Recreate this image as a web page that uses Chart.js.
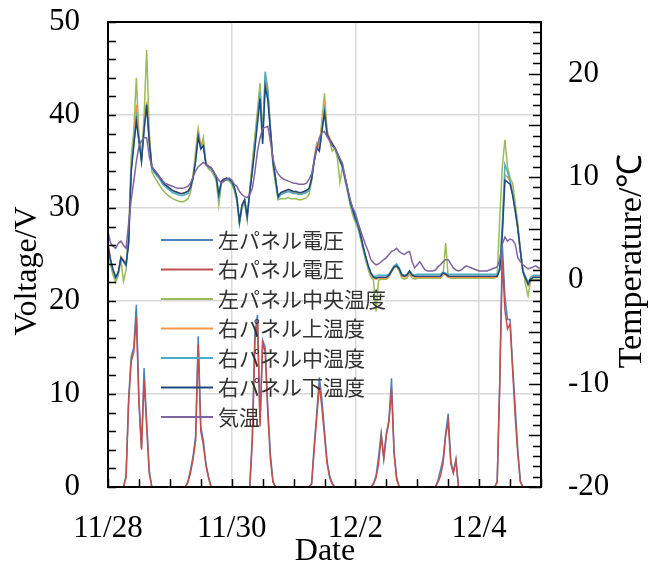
<!DOCTYPE html>
<html>
<head>
<meta charset="utf-8">
<script src="https://cdn.jsdelivr.net/npm/chart.js@4.4.0/dist/chart.umd.min.js"></script>
<style>
  html, body { margin: 0; padding: 0; background: #fff; }
  #wrap { width: 660px; height: 566px; }
</style>
</head>
<body>
<div id="wrap"><canvas id="chart" width="660" height="566"></canvas></div>
<script>
// hourly readings, index = hours since 11/28 0:00
const tickHours = [0, 48, 96, 144];
const tickLabels = ['11/28', '11/30', '12/2', '12/4'];

const seriesNames = ['左パネル電圧', '右パネル電圧', '左パネル中央温度', '右パネル上温度', '右パネル中温度', '右パネル下温度', '気温'];
const seriesColors = ['#4F81BD', '#C0504D', '#9BBB59', '#F79646', '#4BACC6', '#1F497D', '#8064A2'];

const leftVolt = [
  0,0,0,0,0,0,0, 1.2, 9.5, 14.0, 15.0, 19.6, 9.5, 4.2, 12.8, 7.0, 1.8, 0,0,0,0,0,0,0,
  0,0,0,0,0,0,0, 0.6, 1.8, 3.3, 5.5, 16.2, 6.5, 5.0, 2.5, 1.1, 0,0,0,0,0,0,0,0,
  0,0,0,0,0,0,0,0, 5.5, 16.5, 18.5, 7.0, 15.8, 15.0, 8.5, 3.6, 0.6, 0,0,0,0,0,0,0,
  0,0,0,0,0,0,0, 0.4, 4.5, 8.0, 11.8, 9.4, 6.0, 2.8, 1.2, 0.4, 0,0,0,0,0,0,0,0,
  0,0,0,0,0,0,0, 0.4, 1.2, 3.3, 5.8, 3.2, 5.8, 7.2, 11.7, 3.8, 1.0, 0,0,0,0,0,0,0,
  0,0,0,0,0,0,0,0, 0.7, 1.8, 3.0, 5.8, 7.9, 2.8, 1.6, 3.0, 0,0,0,0,0,0,0,0,
  0,0,0,0,0,0,0, 0.6, 11.5, 26.0, 20.5, 18.0, 18.0, 13.0, 8.6, 4.0, 0.6, 0,0,0,0,0,0,0,0
];
const rightVolt = [
  0,0,0,0,0,0,0, 1.0, 9.0, 13.5, 14.5, 18.3, 9.0, 4.0, 11.5, 6.5, 1.5, 0,0,0,0,0,0,0,
  0,0,0,0,0,0,0, 0.5, 1.5, 3.0, 5.0, 15.3, 6.0, 4.5, 2.3, 1.0, 0,0,0,0,0,0,0,0,
  0,0,0,0,0,0,0,0, 5.0, 15.8, 17.9, 6.5, 15.5, 14.5, 8.0, 3.0, 0.5, 0,0,0,0,0,0,0,
  0,0,0,0,0,0,0, 0.3, 4.0, 7.5, 11.0, 8.5, 5.5, 2.5, 1.0, 0.3, 0,0,0,0,0,0,0,0,
  0,0,0,0,0,0,0, 0.3, 1.0, 2.5, 5.5, 3.0, 5.5, 7.0, 10.5, 3.5, 0.8, 0,0,0,0,0,0,0,
  0,0,0,0,0,0,0,0, 0.5, 1.2, 2.5, 5.5, 7.0, 2.5, 1.5, 2.8, 0,0,0,0,0,0,0,0,
  0,0,0,0,0,0,0, 0.5, 11.0, 24.5, 19.0, 17.0, 17.5, 12.5, 7.5, 3.5, 0.5, 0,0,0,0,0,0,0,0
];
const leftCenterTemp = [
  3.2, 1.5, 0.5, -0.2, 0.5, 2.0, -0.1, 1.0, 4.5, 12.0, 14.5, 19.6, 14.0, 11.8, 16.0, 22.3, 14.5, 10.5, 10.0, 9.6, 9.2, 8.8, 8.5, 8.3,
  8.1, 7.9, 7.8, 7.7, 7.6, 7.6, 7.7, 7.9, 8.5, 10.0, 12.5, 14.7, 13.0, 13.8, 11.3, 10.8, 10.6, 10.2, 9.6, 7.3, 9.4, 9.6, 9.7, 9.6,
  9.3, 8.7, 7.6, 5.5, 7.0, 7.5, 5.8, 8.8, 11.5, 14.0, 16.5, 19.1, 14.0, 19.7, 18.0, 14.5, 11.0, 9.3, 7.8, 7.9, 7.9, 7.9, 8.0, 7.9,
  7.9, 7.9, 7.8, 7.8, 7.9, 8.0, 8.3, 9.6, 11.8, 13.3, 13.0, 15.5, 18.1, 14.5, 13.5, 12.5, 12.8, 11.8, 9.5, 11.0, 9.6, 8.5, 7.2, 6.3,
  5.6, 5.0, 4.0, 2.9, 1.9, 1.0, 0.3, 0.0, -3.0, 0.0, 0.1, 0.1, 0.1, 0.3, 0.8, 1.2, 1.3, 0.9, 0.2, 0.1, 0.2, 0.6, 0.2, 0.1,
  0.2, 0.2, 0.2, 0.2, 0.2, 0.2, 0.2, 0.2, 0.2, 0.2, 0.5, 3.6, 0.3, 0.2, 0.2, 0.2, 0.2, 0.2, 0.2, 0.2, 0.2, 0.2, 0.2, 0.2,
  0.2, 0.2, 0.2, 0.2, 0.2, 0.2, 0.2, 0.5, 6.0, 11.0, 13.6, 11.0, 9.9, 9.4, 7.5, 5.5, 3.0, 1.0, -0.4, -1.5, 0.0, 0.1, 0.1, 0.1, 0.1
];
const rightUpperTemp = [
  3.5, 2.0, 1.0, 0.3, 0.8, 2.3, 2.0, 1.6, 3.8, 11.0, 13.6, 17.0, 13.8, 11.8, 15.0, 17.3, 13.8, 11.0, 10.6, 10.3, 10.0, 9.6, 9.3, 9.1,
  8.9, 8.7, 8.6, 8.5, 8.4, 8.4, 8.5, 8.6, 9.1, 10.1, 12.0, 14.3, 13.0, 13.3, 11.4, 11.1, 10.9, 10.5, 10.0, 8.2, 9.6, 9.8, 9.9, 9.8,
  9.6, 9.0, 8.0, 5.6, 7.3, 7.8, 6.1, 8.7, 11.0, 13.5, 16.0, 18.0, 13.8, 19.6, 18.4, 14.8, 11.6, 9.9, 8.0, 8.4, 8.5, 8.6, 8.7, 8.6,
  8.5, 8.5, 8.4, 8.4, 8.5, 8.6, 8.8, 9.9, 11.8, 13.1, 12.8, 15.0, 17.0, 14.4, 13.8, 13.3, 12.9, 12.3, 11.6, 11.0, 9.9, 8.7, 7.5, 6.7,
  5.9, 5.3, 4.3, 3.2, 2.2, 1.3, 0.6, 0.2, 0.1, 0.2, 0.2, 0.2, 0.2, 0.4, 0.9, 1.3, 1.4, 1.0, 0.4, 0.3, 0.4, 0.8, 0.4, 0.3,
  0.3, 0.3, 0.3, 0.3, 0.3, 0.3, 0.3, 0.3, 0.3, 0.3, 0.6, 0.5, 0.3, 0.3, 0.3, 0.3, 0.3, 0.3, 0.3, 0.3, 0.3, 0.3, 0.3, 0.3,
  0.3, 0.3, 0.3, 0.3, 0.3, 0.3, 0.3, 0.3, 1.1, 5.0, 10.2, 10.0, 9.6, 8.5, 6.9, 5.2, 2.9, 0.9, 0.2, -0.5, 0.1, 0.3, 0.3, 0.3, 0.3
];
const rightMidTemp = [
  3.3, 1.8, 0.9, 0.2, 0.7, 2.1, 1.8, 1.4, 3.8, 10.8, 13.3, 15.8, 13.6, 11.6, 14.8, 16.8, 13.4, 10.8, 10.4, 10.1, 9.8, 9.4, 9.1, 8.9,
  8.7, 8.5, 8.4, 8.3, 8.2, 8.2, 8.3, 8.4, 8.9, 9.9, 11.8, 14.0, 12.8, 13.1, 11.2, 10.9, 10.8, 10.4, 9.9, 8.0, 9.5, 9.7, 9.8, 9.7,
  9.5, 8.9, 7.8, 5.5, 7.2, 7.7, 6.0, 8.6, 10.8, 13.2, 15.8, 18.2, 13.6, 20.2, 18.5, 14.8, 11.4, 9.7, 7.9, 8.3, 8.4, 8.5, 8.6, 8.5,
  8.4, 8.4, 8.3, 8.3, 8.4, 8.5, 8.7, 9.8, 11.6, 12.9, 12.6, 14.6, 16.5, 14.2, 13.6, 13.2, 12.8, 12.2, 11.5, 10.9, 9.8, 8.6, 7.4, 6.6,
  5.8, 5.2, 4.2, 3.1, 2.1, 1.3, 0.7, 0.4, 0.4, 0.5, 0.5, 0.5, 0.5, 0.6, 1.0, 1.4, 1.6, 1.2, 0.6, 0.5, 0.6, 0.9, 0.6, 0.5,
  0.6, 0.6, 0.6, 0.6, 0.6, 0.6, 0.6, 0.6, 0.6, 0.6, 0.8, 0.7, 0.6, 0.6, 0.6, 0.6, 0.6, 0.6, 0.6, 0.6, 0.6, 0.6, 0.6, 0.6,
  0.6, 0.6, 0.6, 0.6, 0.6, 0.6, 0.6, 0.6, 1.2, 5.5, 11.2, 10.5, 9.6, 8.4, 6.9, 5.0, 2.8, 0.9, 0.4, -0.2, 0.3, 0.5, 0.5, 0.5, 0.5
];
const rightLowerTemp = [
  3.4, 2.0, 1.0, 0.3, 0.8, 2.2, 1.9, 1.5, 3.5, 10.5, 13.0, 15.4, 13.5, 11.5, 14.5, 17.0, 13.5, 11.0, 10.6, 10.3, 10.0, 9.6, 9.3, 9.1,
  8.9, 8.7, 8.6, 8.5, 8.4, 8.4, 8.5, 8.6, 9.0, 9.9, 11.5, 13.9, 12.7, 13.0, 11.2, 11.0, 10.9, 10.5, 10.0, 8.3, 9.6, 9.8, 9.9, 9.8,
  9.6, 9.0, 8.0, 5.7, 7.3, 7.8, 6.2, 8.5, 10.5, 12.8, 15.2, 17.6, 13.2, 18.8, 17.5, 14.5, 11.5, 9.9, 8.1, 8.5, 8.6, 8.7, 8.8, 8.7,
  8.6, 8.6, 8.5, 8.5, 8.6, 8.7, 8.9, 9.8, 11.5, 12.8, 12.5, 14.4, 16.2, 14.1, 13.6, 13.2, 12.8, 12.3, 11.6, 11.0, 9.9, 8.8, 7.6, 6.8,
  6.0, 5.4, 4.4, 3.3, 2.3, 1.4, 0.7, 0.3, 0.2, 0.3, 0.3, 0.3, 0.3, 0.5, 0.9, 1.3, 1.4, 1.1, 0.5, 0.4, 0.5, 0.9, 0.5, 0.4,
  0.4, 0.4, 0.4, 0.4, 0.4, 0.4, 0.4, 0.4, 0.4, 0.4, 0.7, 0.6, 0.4, 0.4, 0.4, 0.4, 0.4, 0.4, 0.4, 0.4, 0.4, 0.4, 0.4, 0.4,
  0.4, 0.4, 0.4, 0.4, 0.4, 0.4, 0.4, 0.4, 1.0, 4.5, 9.7, 9.5, 9.3, 8.2, 6.7, 5.0, 2.8, 0.8, 0.2, -0.4, 0.1, 0.3, 0.3, 0.3, 0.3
];
const airTemp = [
  4.7, 3.6, 3.3, 3.1, 3.6, 3.8, 3.4, 3.1, 5.5, 7.8, 9.6, 11.5, 13.0, 13.5, 13.8, 13.8, 12.0, 11.0, 10.7, 10.4, 10.0, 9.7, 9.4, 9.3,
  9.2, 9.1, 9.0, 8.9, 8.9, 8.9, 9.0, 9.1, 9.4, 10.0, 10.6, 11.0, 11.2, 11.4, 11.2, 11.0, 10.9, 10.5, 10.1, 9.7, 9.4, 9.6, 9.8, 9.9,
  9.7, 9.3, 9.1, 8.6, 8.3, 8.1, 8.0, 8.3, 8.9, 10.5, 12.5, 13.8, 14.7, 14.8, 14.9, 13.5, 11.8, 10.8, 10.3, 10.0, 9.8, 9.7, 9.6, 9.5,
  9.4, 9.4, 9.3, 9.3, 9.3, 9.4, 9.8, 10.3, 11.5, 12.8, 13.8, 14.3, 14.4, 13.9, 13.5, 13.0, 12.8, 12.3, 11.8, 11.3, 10.0, 8.9, 7.8, 7.0,
  6.5, 5.6, 4.8, 4.1, 3.4, 2.8, 2.0, 1.7, 1.5, 1.6, 1.8, 2.0, 2.2, 2.5, 2.8, 2.9, 3.1, 2.8, 2.6, 2.5, 2.7, 2.8, 1.8, 1.2,
  1.5, 1.8, 1.4, 1.0, 0.9, 0.9, 0.9, 1.0, 1.3, 1.5, 1.8, 2.0, 2.0, 1.6, 1.2, 1.0, 0.9, 1.0, 1.2, 1.4, 1.3, 1.2, 1.1, 1.0,
  0.9, 0.9, 0.9, 0.9, 1.0, 1.1, 1.2, 1.3, 2.0, 3.5, 4.2, 3.8, 4.0, 3.9, 3.5, 2.2, 1.8, 1.5, 1.3, 1.1, 1.2, 1.3, 1.4, 1.2, 1.2
];

const seriesValues = [leftVolt, rightVolt, leftCenterTemp, rightUpperTemp, rightMidTemp, rightLowerTemp, airTemp];
const seriesAxis = ['y', 'y', 'y1', 'y1', 'y1', 'y1', 'y1'];

const serif = '"Liberation Serif", "Times New Roman", serif';
const jpFont = '"Noto Sans CJK JP", "Noto Sans", sans-serif';

const datasets = seriesValues.map((vals, i) => ({
    label: seriesNames[i],
    data: vals.map((v, h) => ({x: h, y: v})),
    yAxisID: seriesAxis[i],
    borderColor: seriesColors[i],
    backgroundColor: seriesColors[i],
    borderWidth: 1.5,
    pointRadius: 0,
    tension: 0,
    order: seriesValues.length - i   // later series on top, as in the original
}));

// inner tick marks, frame, titles and legend
const decorations = {
    id: 'decorations',
    afterDatasetsDraw(chart) {
        const {ctx, chartArea: a, scales} = chart;
        ctx.save();
        ctx.strokeStyle = '#000';
        ctx.lineWidth = 1.5;
        ctx.beginPath();
        for (let v = 0; v <= 50; v += 2) {
            const py = Math.round(scales.y.getPixelForValue(v)) + 0.5;
            ctx.moveTo(a.left, py); ctx.lineTo(a.left + 8, py);
        }
        for (let t = -20; t <= 25; t += 1) {
            const py = Math.round(scales.y1.getPixelForValue(t)) + 0.5;
            const len = t % 5 === 0 ? 12 : 8;
            ctx.moveTo(a.right, py); ctx.lineTo(a.right - len, py);
        }
        for (let h = 0; h <= 168; h += 12) {
            const px = Math.round(scales.x.getPixelForValue(h)) + 0.5;
            ctx.moveTo(px, a.bottom); ctx.lineTo(px, a.bottom - 8);
        }
        ctx.stroke();
        ctx.lineWidth = 2;
        ctx.strokeRect(a.left, a.top, a.right - a.left, a.bottom - a.top);
        ctx.restore();
    },
    afterDraw(chart) {
        const {ctx} = chart;
        ctx.save();
        ctx.fillStyle = '#000';
        ctx.textAlign = 'center';
        ctx.textBaseline = 'middle';
        ctx.font = '32px ' + serif;
        ctx.fillText('Date', 325, 552);
        ctx.translate(28, 271);
        ctx.rotate(-Math.PI / 2);
        ctx.fillText('Voltage/V', 0, 0);
        ctx.restore();

        ctx.save();
        ctx.fillStyle = '#000';
        ctx.textAlign = 'center';
        ctx.textBaseline = 'middle';
        ctx.font = '34px ' + serif;
        ctx.translate(632, 261);
        ctx.rotate(-Math.PI / 2);
        ctx.fillText('Temperature/℃', 0, 0);
        ctx.restore();

        // legend inside the plot
        ctx.save();
        ctx.font = '21px ' + jpFont;
        ctx.textBaseline = 'middle';
        ctx.textAlign = 'left';
        seriesNames.forEach((name, i) => {
            const ly = 240 + i * 29.5;
            ctx.strokeStyle = seriesColors[i];
            ctx.lineWidth = 2;
            ctx.beginPath();
            ctx.moveTo(161, ly); ctx.lineTo(213, ly);
            ctx.stroke();
            ctx.fillStyle = '#333';
            ctx.fillText(name, 218, ly);
        });
        ctx.restore();
    }
};

const gridStyle = {color: '#d9d9d9', lineWidth: 1.5, drawTicks: false};
const tickFont = {family: serif, size: 31};
const noEdgePadding = s => { s.paddingTop = 0; s.paddingBottom = 0; s.paddingLeft = 0; s.paddingRight = 0; };

new Chart(document.getElementById('chart'), {
    type: 'line',
    data: {datasets},
    options: {
        responsive: false,
        animation: false,
        layout: {padding: {top: 22, left: 0, right: 0, bottom: 0}},
        plugins: {legend: {display: false}, tooltip: {enabled: false}},
        scales: {
            x: {
                type: 'linear', min: 0, max: 168,
                grid: gridStyle,
                border: {display: false},
                ticks: {
                    stepSize: 48, includeBounds: false, autoSkip: false, maxRotation: 0,
                    color: '#000', font: tickFont, padding: 23,
                    callback: v => {
                        const k = tickHours.indexOf(v);
                        return k >= 0 ? tickLabels[k] : '';
                    }
                },
                afterFit: s => { noEdgePadding(s); s.height = 79; }
            },
            y: {
                position: 'left', min: 0, max: 50,
                grid: gridStyle,
                border: {display: false},
                ticks: {stepSize: 10, includeBounds: false, color: '#000', font: tickFont, padding: 28},
                afterFit: s => { noEdgePadding(s); s.width = 108; }
            },
            y1: {
                position: 'right', min: -20, max: 25,
                grid: {display: false, drawTicks: false},
                border: {display: false},
                ticks: {stepSize: 10, includeBounds: false, color: '#000', font: tickFont, padding: 27},
                afterFit: s => { noEdgePadding(s); s.width = 119; }
            }
        }
    },
    plugins: [decorations]
});
</script>
</body>
</html>
